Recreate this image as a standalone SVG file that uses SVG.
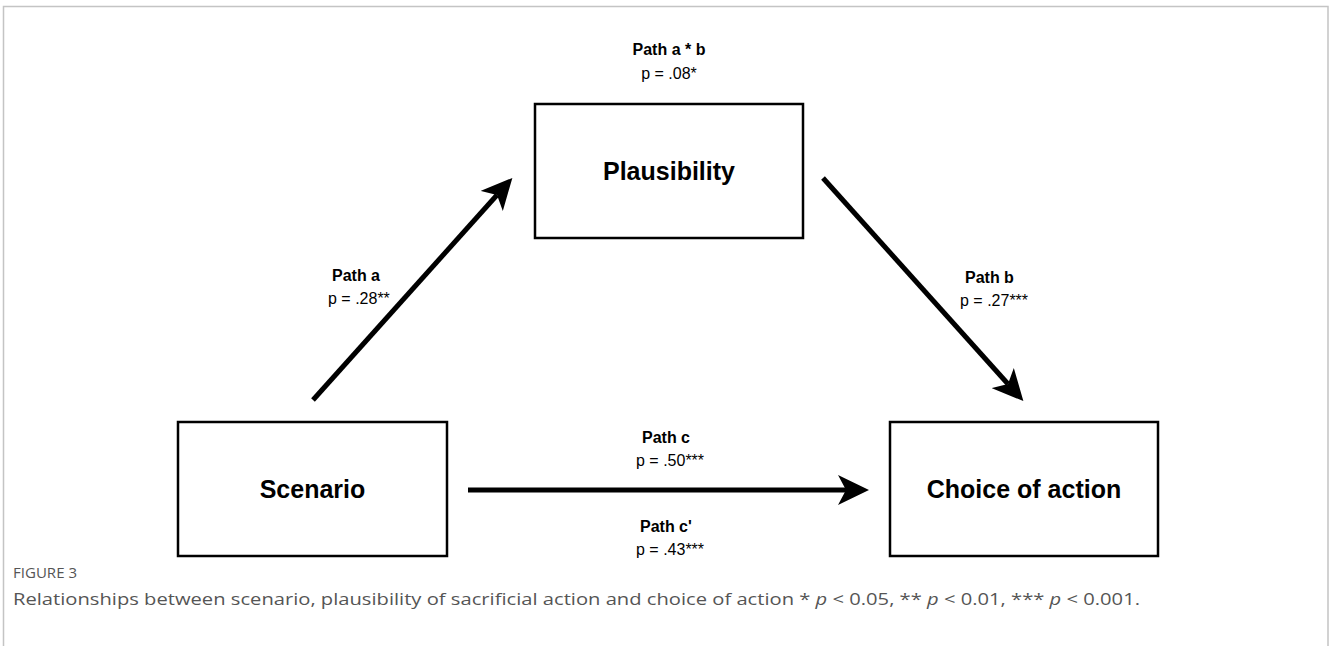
<svg xmlns="http://www.w3.org/2000/svg" width="1330" height="646" viewBox="0 0 1330 646">
<style>
.box{fill:#fff;stroke:#000;stroke-width:2.5}
.nt{font-family:"Liberation Sans",Arial,sans-serif;font-weight:bold;font-size:25px;fill:#000;text-anchor:middle}
.lb{font-family:"Liberation Sans",Arial,sans-serif;font-weight:bold;font-size:16px;fill:#000}
.lp{font-family:"Liberation Sans",Arial,sans-serif;font-size:16px;fill:#000}
.edge{stroke:#000;stroke-width:5;fill:none}
.cap{font-family:"Open Sans",Lato,sans-serif;fill:#555}
</style>
<defs>
<marker id="ah" markerUnits="userSpaceOnUse" markerWidth="32" markerHeight="30" viewBox="0 0 32 30" refX="8" refY="15" orient="auto">
<path d="M0,0 L31,15 L0,30 L8,15 z" fill="#000"/>
</marker>
</defs>
<rect width="1330" height="646" fill="#fff"/>
<g id="frame" fill="none" stroke="#c4c4c4" stroke-width="1.5">
<path d="M3.5,646 V6.5 H1328 V646"/>
</g>
<g id="connectors">
<line class="edge" x1="313" y1="400" x2="497" y2="195" marker-end="url(#ah)"/>
<line class="edge" x1="823" y1="178" x2="1008" y2="384" marker-end="url(#ah)"/>
<line class="edge" x1="468" y1="490" x2="846" y2="490" marker-end="url(#ah)"/>
</g>
<g id="node-plausibility">
<rect class="box" x="535" y="104" width="268" height="134"/>
<text class="nt" x="669" y="180">Plausibility</text>
</g>
<g id="node-scenario">
<rect class="box" x="178" y="422" width="269" height="134"/>
<text class="nt" x="312.5" y="498">Scenario</text>
</g>
<g id="node-choice">
<rect class="box" x="890" y="422" width="268" height="134"/>
<text class="nt" x="1024" y="498">Choice of action</text>
</g>
<g id="labels">
<text class="lb" x="669" y="55" text-anchor="middle">Path a * b</text>
<text class="lp" x="669" y="79" text-anchor="middle">p = .08*</text>
<text class="lb" x="332" y="281">Path a</text>
<text class="lp" x="328" y="304">p = .28**</text>
<text class="lb" x="965" y="283">Path b</text>
<text class="lp" x="960" y="306">p = .27***</text>
<text class="lb" x="642" y="443">Path c</text>
<text class="lp" x="636" y="466">p = .50***</text>
<text class="lb" x="640" y="532">Path c'</text>
<text class="lp" x="636" y="555">p = .43***</text>
</g>
<g id="caption">
<text class="cap" x="13" y="578" font-size="14" fill="#777" textLength="64" lengthAdjust="spacingAndGlyphs">FIGURE 3</text>
<text class="cap" x="13" y="605" font-size="17" textLength="1127" lengthAdjust="spacingAndGlyphs">Relationships between scenario, plausibility of sacrificial action and choice of action * <tspan font-style="italic">p</tspan> &lt; 0.05, ** <tspan font-style="italic">p</tspan> &lt; 0.01, *** <tspan font-style="italic">p</tspan> &lt; 0.001.</text>
</g>
</svg>
